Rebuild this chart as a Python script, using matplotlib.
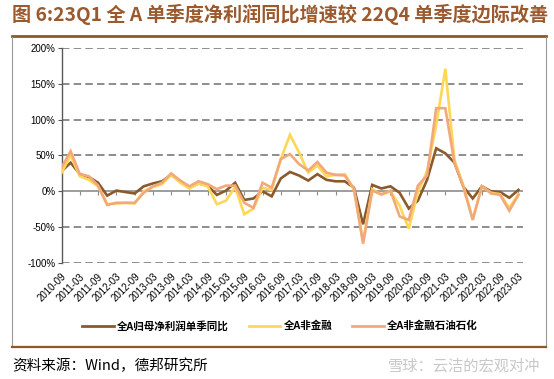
import numpy as np
import pandas as pd
import matplotlib
matplotlib.use("Agg")
import matplotlib.pyplot as plt
from matplotlib.lines import Line2D

plt.rcParams['font.family'] = ['Liberation Sans', 'Noto Sans CJK SC', 'DejaVu Sans']

# quarterly data, 2010-09 .. 2023-03 (%)
quarters = [p.strftime('%Y-%m') for p in pd.period_range('2010Q3', '2023Q1', freq='Q').to_timestamp(how='end')]

all_a = [28, 40, 24, 20, 12, -6, 1, -1, -3, 7,
         11, 14, 23, 14, 5, 11, 8, -5, 1, 12,
         -12, -10, 0, -7, 18, 27, 22, 15, 24, 16,
         14, 14, 5, -46, 9, 4, 7, -2, -24, -13,
         16, 60, 53, 40, 6, -10, 7, 0, -1, -9, 2]
non_fin = [26, 50, 21, 16, 7, -18, -17, -16, -17, 0,
           6, 10, 23, 12, 4, 11, 7, -18, -13, 6,
           -32, -24, 5, 2, 45, 79, 54, 26, 36, 21,
           23, 24, 2, -70, 3, -5, 0, -20, -52, -1,
           28, 92, 171, 44, 7, -39, 7, -2, -4, -23, -4]
non_fin_ex_oil = [33, 56, 24, 21, 8, -19, -16, -16, -16, -2,
                  7, 12, 25, 15, 7, 14, 10, 3, 8, 8,
                  -16, -23, 12, 5, 45, 52, 38, 29, 41, 26,
                  23, 22, 4, -73, 1, -4, 1, -35, -40, 8,
                  22, 116, 116, 40, 5, -40, 7, -3, -5, -27, -5]

names = ['全A归母净利润单季同比', '全A非金融', '全A非金融石油石化']
colours = ['#8B5A2B', '#FFD757', '#F2A97A']

fig = plt.figure(figsize=(5.54, 3.79), dpi=100)
ax = fig.add_axes([61.5/554, 1-263/379, (523-61.5)/554, (263-48)/379])

x = np.arange(len(quarters))
for series, c in zip([all_a, non_fin, non_fin_ex_oil], colours):
    ax.plot(x, series, color=c, lw=1.9, solid_joinstyle='miter', zorder=3)

ax.set_xlim(0, 50.5)
ax.set_ylim(-100, 200)
yt = np.arange(-100, 201, 50)
ax.set_yticks(yt)
ax.set_yticklabels(['%d%%' % v for v in yt], fontsize=7)
for v in yt:
    if v != 0:
        ax.axhline(v, color='#7a7a7a', lw=1.2, ls=(0, (4.5, 2.5)), zorder=1)
ax.axhline(0, color='#8c8c8c', lw=1.2, zorder=2)

for s in ['top', 'right', 'bottom']:
    ax.spines[s].set_visible(False)
ax.spines['left'].set_color('#595959')
ax.spines['left'].set_linewidth(1.0)
ax.tick_params(axis='y', length=3, color='#595959', pad=1.5)

ax.set_xticks(x[::2])
ax.set_xticklabels(quarters[::2], rotation=45, ha='right', va='top',
                   rotation_mode='anchor', fontsize=7)
ax.tick_params(axis='x', length=0, pad=6)

# tick marks along the zero line
sec = ax.secondary_xaxis(1/3)
sec.set_xticks(x[::2])
sec.set_xticklabels([])
sec.tick_params(axis='x', direction='out', length=3, color='#8c8c8c')
sec.spines['bottom'].set_visible(False)
sec.spines['top'].set_visible(False)

handles = [Line2D([], [], color=c, lw=2) for c in colours]
fig.legend(handles, names, loc='center', bbox_to_anchor=(280/554, 1-326/379),
           ncol=3, frameon=False, handlelength=3.0, columnspacing=1.9,
           handletextpad=0.3, prop={'family': ['Noto Sans CJK SC'], 'weight': 'bold', 'size': 7.6})

# frame and title
fig.text(12/554, 1-14/379, '图 6:23Q1 全 A 单季度净利润同比增速较 22Q4 单季度边际改善',
         fontsize=13.8, fontweight='bold', color='#9A5A2E', va='center', ha='left',
         family=['Noto Sans CJK SC'])
fig.add_artist(Line2D([12/554, 546/554], [1-35.5/379, 1-35.5/379], color='#8B5A2B', lw=2))
fig.add_artist(Line2D([12/554, 12/554, 546/554, 546/554], [1-37/379, 1-346/379, 1-346/379, 1-37/379],
                      color='#9a9a9a', lw=0.8))
fig.add_artist(Line2D([12/554, 546/554], [1-347/379, 1-347/379], color='#8B5A2B', lw=1.6))
fig.text(12/554, 1-366/379, '资料来源：Wind，德邦研究所', fontsize=10.5, va='center', ha='left',
         family=['Noto Sans CJK SC'])
fig.text(540/554, 1-366/379, '雪球：云洁的宏观对冲', fontsize=11, va='center', ha='right',
         color='#c8c8c8', family=['Noto Sans CJK SC'])

fig.savefig('out.png', dpi=100)
